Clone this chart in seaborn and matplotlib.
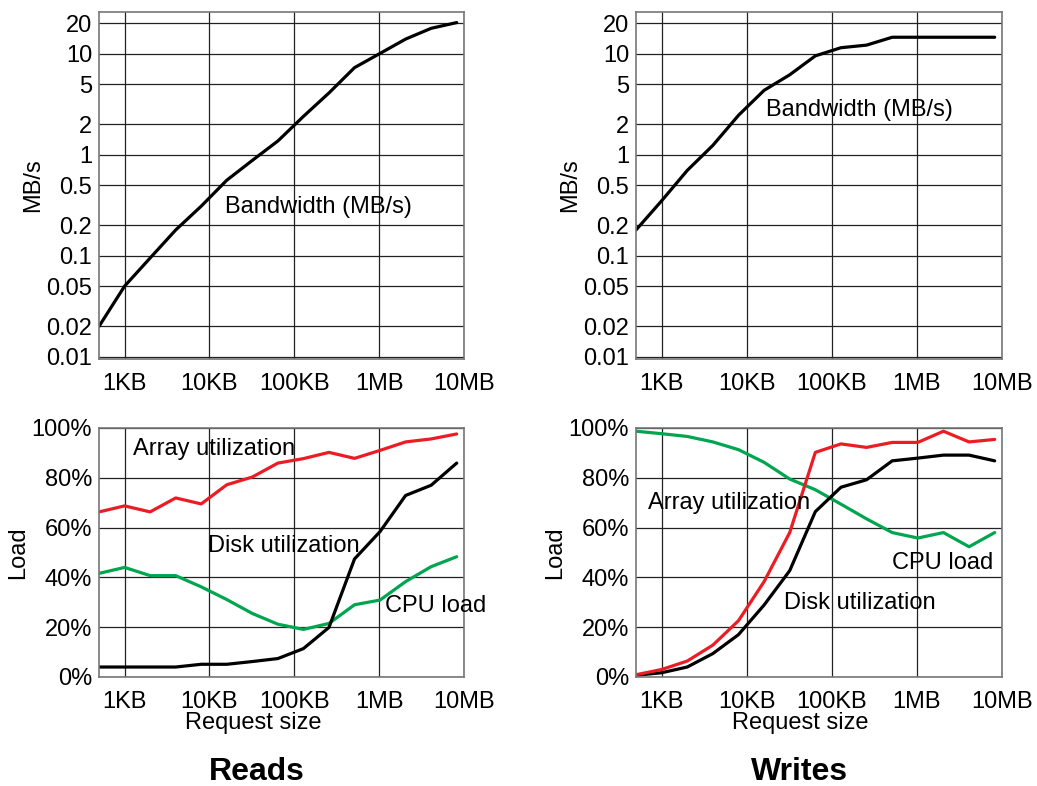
import numpy as np
import pandas as pd
import matplotlib
matplotlib.use("Agg")
import matplotlib.pyplot as plt
import seaborn as sns

# request sizes in KB (512 B ... 8 MB)
sizes_kb = [0.5, 1, 2, 4, 8, 16, 32, 64, 128, 256, 512, 1024, 2048, 4096, 8192]

# bandwidth (MB/s)
reads_bw = [0.02, 0.05, 0.095, 0.18, 0.31, 0.56, 0.88, 1.37, 2.4, 4.1, 7.3, 10.1, 14.0, 17.9, 20.4]
writes_bw = [0.18, 0.35, 0.70, 1.24, 2.46, 4.35, 6.2, 9.55, 11.5, 12.2, 14.6, 14.6, 14.6, 14.6, 14.6]

# load (%)
reads_array = [66.3, 68.7, 66.3, 71.9, 69.5, 77.2, 80.3, 85.9, 87.7, 90.2, 87.8, 91.0, 94.4, 95.6, 97.6]
reads_disk = [4.0, 4.0, 4.0, 4.0, 5.1, 5.1, 6.2, 7.4, 11.4, 19.9, 47.4, 58.4, 72.9, 77.0, 85.9]
reads_cpu = [41.6, 44.0, 40.7, 40.7, 36.2, 31.1, 25.5, 21.2, 19.1, 21.5, 29.0, 30.9, 38.3, 44.3, 48.3]

writes_array = [0.9, 3.0, 6.4, 12.8, 22.6, 38.3, 58.0, 90.2, 93.6, 92.2, 94.2, 94.2, 98.7, 94.4, 95.4]
writes_disk = [0.7, 1.7, 4.0, 9.4, 17.0, 28.9, 42.7, 66.4, 76.2, 79.2, 86.8, 87.9, 89.1, 89.1, 86.8]
writes_cpu = [98.7, 97.7, 96.6, 94.4, 91.3, 86.2, 79.5, 75.2, 69.4, 63.5, 58.0, 55.8, 58.0, 52.3, 58.0]

x_ticks = [1, 10, 100, 1000, 10000]
x_ticklabels = ["1KB", "10KB", "100KB", "1MB", "10MB"]
bw_ticks = [0.01, 0.02, 0.05, 0.1, 0.2, 0.5, 1, 2, 5, 10, 20]
bw_ticklabels = ["0.01", "0.02", "0.05", "0.1", "0.2", "0.5", "1", "2", "5", "10", "20"]
load_ticks = [0, 20, 40, 60, 80, 100]
load_ticklabels = ["0%", "20%", "40%", "60%", "80%", "100%"]

RED = "#ec1c24"
GREEN = "#00a550"
FS = 17

sns.set_theme(style="white")
plt.rcParams["font.family"] = ["Liberation Sans", "DejaVu Sans"]
plt.rcParams["text.color"] = "black"

fig = plt.figure(figsize=(10.37, 7.86), dpi=100)
ax_tl = fig.add_axes([0.0955, 0.5433, 0.352, 0.4415])
ax_tr = fig.add_axes([0.6133, 0.5433, 0.353, 0.4415])
ax_bl = fig.add_axes([0.0955, 0.1387, 0.352, 0.3168])
ax_br = fig.add_axes([0.6133, 0.1387, 0.353, 0.3168])


def style_axis(ax):
    ax.set_xscale("log")
    ax.set_xlim(0.5, 10000)
    ax.set_xticks(x_ticks)
    ax.set_xticklabels(x_ticklabels)
    ax.minorticks_off()
    ax.tick_params(axis="both", length=0, labelsize=FS, colors="black")
    ax.tick_params(axis="x", pad=10)
    ax.tick_params(axis="y", pad=5)
    ax.grid(True, color="#222222", linewidth=0.9)
    for s in ax.spines.values():
        s.set_color("#777777")
        s.set_linewidth(1.2)
    ax.set_xlabel("")
    ax.set_ylabel("")


# bandwidth panels
for ax, bw in [(ax_tl, reads_bw), (ax_tr, writes_bw)]:
    df = pd.DataFrame({"size": sizes_kb, "bw": bw})
    sns.lineplot(data=df, x="size", y="bw", ax=ax, color="black", linewidth=2.3)
    style_axis(ax)
    ax.set_yscale("log")
    ax.set_ylim(0.0095, 26)
    ax.set_yticks(bw_ticks)
    ax.set_yticklabels(bw_ticklabels)
    ax.minorticks_off()
    ax.text(-0.18, 0.5, "MB/s", transform=ax.transAxes, rotation=90,
            ha="center", va="center", fontsize=FS)

ax_tl.text(0.345, 0.438, "Bandwidth (MB/s)", transform=ax_tl.transAxes,
           ha="left", va="center", fontsize=FS)
ax_tr.text(0.355, 0.718, "Bandwidth (MB/s)", transform=ax_tr.transAxes,
           ha="left", va="center", fontsize=FS)

# load panels
for ax, arr, disk, cpu in [(ax_bl, reads_array, reads_disk, reads_cpu),
                           (ax_br, writes_array, writes_disk, writes_cpu)]:
    df = pd.DataFrame({"size": sizes_kb, "array": arr, "disk": disk, "cpu": cpu})
    sns.lineplot(data=df, x="size", y="cpu", ax=ax, color=GREEN, linewidth=2.3)
    sns.lineplot(data=df, x="size", y="disk", ax=ax, color="black", linewidth=2.3)
    sns.lineplot(data=df, x="size", y="array", ax=ax, color=RED, linewidth=2.3)
    style_axis(ax)
    ax.set_ylim(0, 100)
    ax.set_yticks(load_ticks)
    ax.set_yticklabels(load_ticklabels)
    ax.text(-0.222, 0.5, "Load", transform=ax.transAxes, rotation=90,
            ha="center", va="center", fontsize=FS)

ax_bl.text(0.422, -0.185, "Request size", transform=ax_bl.transAxes,
           ha="center", va="center", fontsize=FS)
ax_br.text(0.448, -0.185, "Request size", transform=ax_br.transAxes,
           ha="center", va="center", fontsize=FS)

ax_bl.text(0.093, 0.916, "Array utilization", transform=ax_bl.transAxes,
           ha="left", va="center", fontsize=FS)
ax_bl.text(0.299, 0.527, "Disk utilization", transform=ax_bl.transAxes,
           ha="left", va="center", fontsize=FS)
ax_bl.text(0.784, 0.286, "CPU load", transform=ax_bl.transAxes,
           ha="left", va="center", fontsize=FS)

ax_br.text(0.034, 0.70, "Array utilization", transform=ax_br.transAxes,
           ha="left", va="center", fontsize=FS)
ax_br.text(0.699, 0.457, "CPU load", transform=ax_br.transAxes,
           ha="left", va="center", fontsize=FS)
ax_br.text(0.405, 0.296, "Disk utilization", transform=ax_br.transAxes,
           ha="left", va="center", fontsize=FS)

fig.text(0.248, 0.018, "Reads", ha="center", va="center", fontsize=23, fontweight="bold")
fig.text(0.771, 0.018, "Writes", ha="center", va="center", fontsize=23, fontweight="bold")

fig.savefig("out.png", dpi=100, facecolor="white")
